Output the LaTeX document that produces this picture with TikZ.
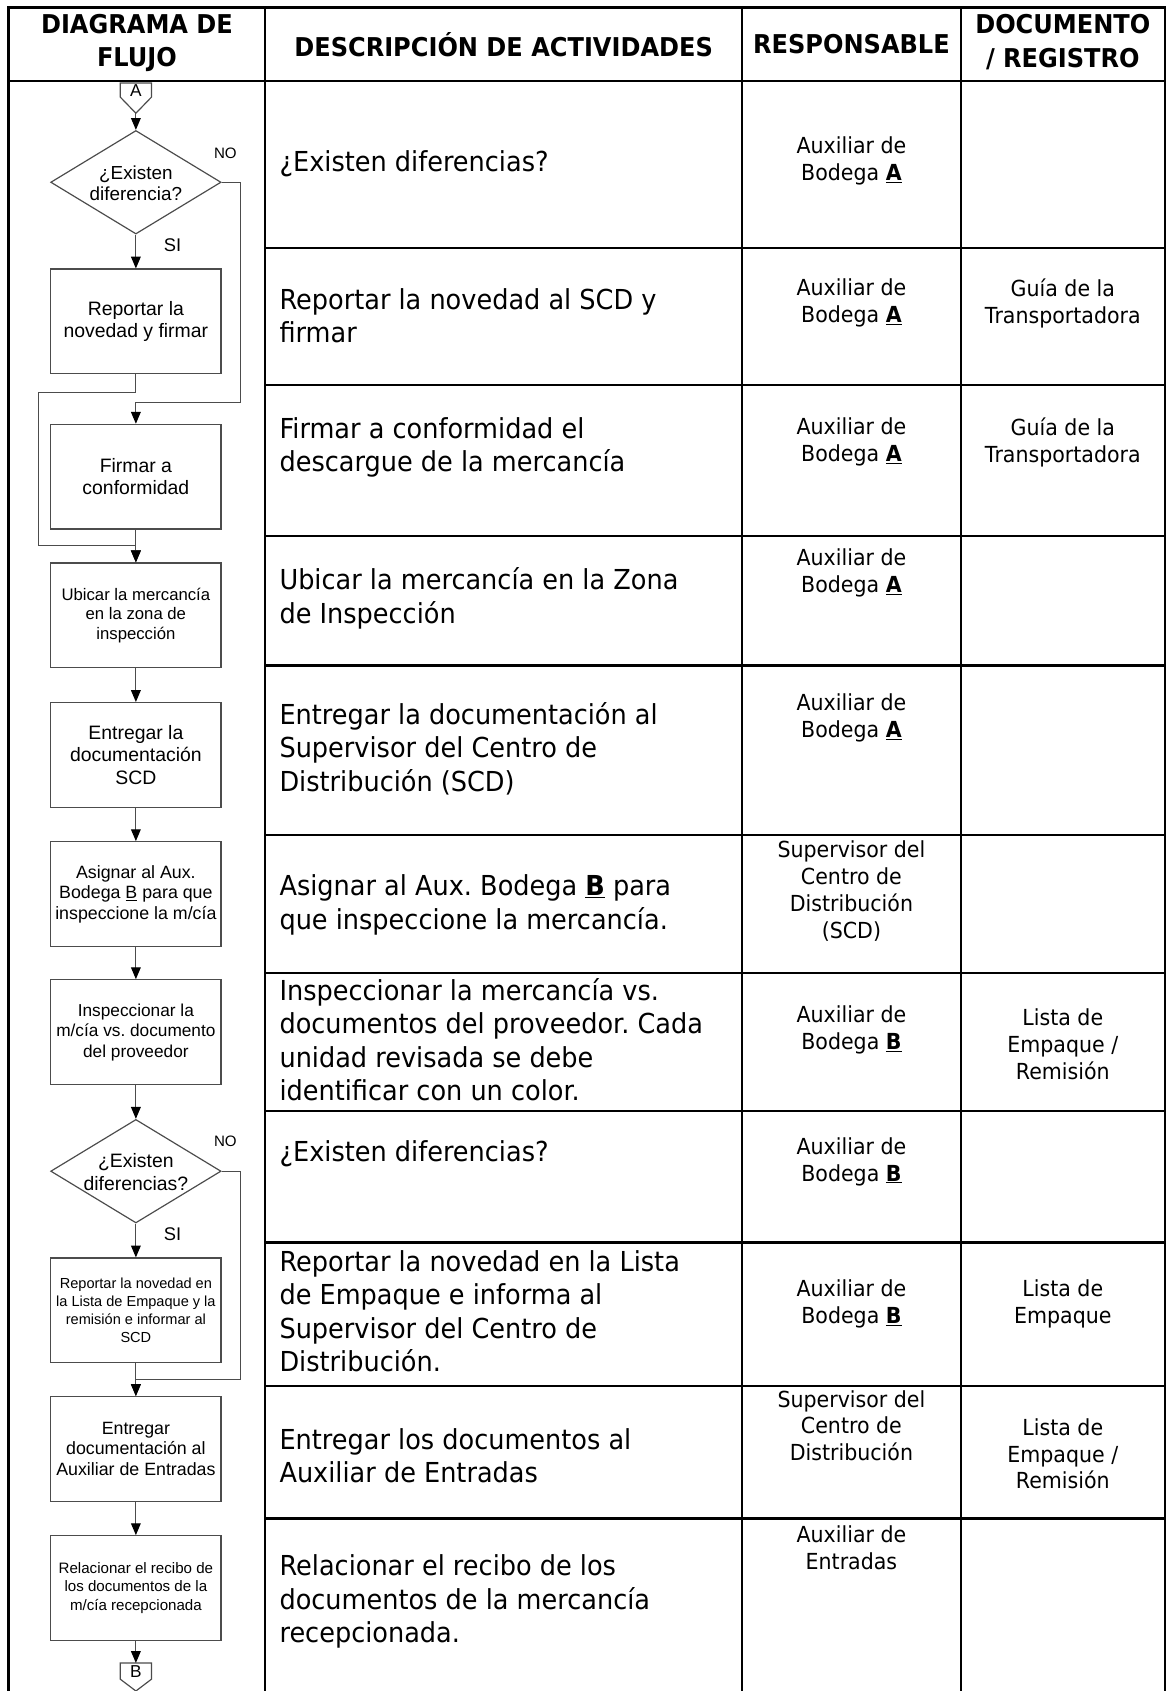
\documentclass[tikz,border=0pt]{standalone}
\usepackage{fontspec}
\setmainfont{DejaVu Sans}[FakeStretch=0.93]
\newfontfamily\arialf{Liberation Sans}
\usetikzlibrary{shapes.geometric,arrows.meta}
\frenchspacing
\begin{document}
\begin{tikzpicture}[x=1pt,y=-1pt,
  tline/.style={line width=2.2pt,black,line cap=rect},
  fbox/.style={draw=black!70,line width=1.1pt,minimum width=158pt,minimum height=97pt,inner sep=2pt,align=center},
  dia/.style={draw=black!70,line width=1.1pt,diamond,minimum width=158pt,minimum height=96pt,inner sep=0pt},
  flow/.style={draw=black!70,line width=1.1pt,-{Triangle[length=11pt,width=9pt,black]}},
  fline/.style={draw=black!70,line width=1.1pt},
  desc/.style={anchor=west,align=left,inner sep=0pt,font=\fontsize{25.5}{31}\selectfont},
  resp/.style={align=center,inner sep=0pt,font=\fontsize{20.5}{25}\selectfont},
  head/.style={align=center,inner sep=0pt,font=\fontsize{24}{31}\selectfont\bfseries},
  lbl/.style={inner sep=0pt,font=\arialf\fontsize{14}{16}\selectfont},
]
\useasboundingbox (0,0) rectangle (1082,1568);
\fill[white] (0,0) rectangle (1082,1568);

% ---------------- table ----------------
\draw[tline] (8,7) -- (1080,7);
\draw[tline] (8,75) -- (1080,75);
\foreach \x in {8,246,688,891,1080} \draw[tline] (\x,7) -- (\x,1568);
\foreach \y in {230,357,497,617,774,902,1030,1152,1285,1408} \draw[tline] (246,\y) -- (1080,\y);

% headers
\node[head] (h1) at (127,40) {DIAGRAMA DE\\FLUJO};
\node[head] (h2) at (467,41) {DESCRIPCIÓN DE ACTIVIDADES};
\node[head] (h3) at (789.5,41) {RESPONSABLE};
\node[head] (h4) at (985.5,39) {DOCUMENTO\\/ REGISTRO};

% descriptions
\node[desc] (t1) at (259,152) {¿Existen diferencias?};
\node[desc] (t2) at (259,293) {Reportar la novedad al SCD y\\firmar};
\node[desc] (t3) at (259,415) {Firmar a conformidad el\\descargue de la mercancía};
\node[desc] (t4) at (259,555) {Ubicar la mercancía en la Zona\\de Inspección};
\node[desc] (t5) at (259,694) {Entregar la documentación al\\Supervisor del Centro de\\Distribución (SCD)};
\node[desc] (t6) at (259,839) {Asignar al Aux. Bodega \textbf{\underline{B}} para\\que inspeccione la mercancía.};
\node[desc] (t7) at (259,964) {Inspeccionar la mercancía vs.\\documentos del proveedor. Cada\\unidad revisada se debe\\identificar con un color.};
\node[desc] (t8) at (259,1070) {¿Existen diferencias?};
\node[desc] (t9) at (259,1216) {Reportar la novedad en la Lista\\de Empaque e informa al\\Supervisor del Centro de\\Distribución.};
\node[desc] (t10) at (259,1350) {Entregar los documentos al\\Auxiliar de Entradas};
\node[desc] (t11) at (259,1485) {Relacionar el recibo de los\\documentos de la mercancía\\recepcionada.};

% responsables
\node[resp] (r1) at (789.5,149) {Auxiliar de\\Bodega \textbf{\underline{A}}};
\node[resp] (r2) at (789.5,281) {Auxiliar de\\Bodega \textbf{\underline{A}}};
\node[resp] (r3) at (789.5,410) {Auxiliar de\\Bodega \textbf{\underline{A}}};
\node[resp] (r4) at (789.5,531) {Auxiliar de\\Bodega \textbf{\underline{A}}};
\node[resp] (r5) at (789.5,666) {Auxiliar de\\Bodega \textbf{\underline{A}}};
\node[resp] (r6) at (789.5,826) {Supervisor del\\Centro de\\Distribución\\(SCD)};
\node[resp] (r7) at (789.5,955) {Auxiliar de\\Bodega \textbf{\underline{B}}};
\node[resp] (r8) at (789.5,1077) {Auxiliar de\\Bodega \textbf{\underline{B}}};
\node[resp] (r9) at (789.5,1209) {Auxiliar de\\Bodega \textbf{\underline{B}}};
\node[resp] (r10) at (789.5,1322) {Supervisor del\\Centro de\\Distribución};
\node[resp] (r11) at (789.5,1435) {Auxiliar de\\Entradas};

% documentos
\node[resp] (g2) at (985.5,281) {Guía de la\\Transportadora};
\node[resp] (g3) at (985.5,410) {Guía de la\\Transportadora};
\node[resp] (g7) at (985.5,968) {Lista de\\Empaque /\\Remisión};
\node[resp] (g9) at (985.5,1209) {Lista de\\Empaque};
\node[resp] (g10) at (985.5,1348) {Lista de\\Empaque /\\Remisión};

% ---------------- flowchart ----------------
\draw[fline] (111.5,77) -- (140.5,77) -- (140.5,90) -- (126,105) -- (111.5,90) -- cycle;
\node[inner sep=0pt,font=\arialf\fontsize{16}{18}\selectfont] (A) at (126,84) {A};
\coordinate (Atip) at (126,105);

\node[dia] (d1) at (126,169) {};
\node[align=center,inner sep=0pt,font=\arialf\fontsize{17.5}{20}\selectfont] (d1t) at (126,170) {¿Existen\\diferencia?};
\node[fbox,font=\arialf\fontsize{18}{21}\selectfont] (b2) at (126,298) {Reportar la\\novedad y firmar};
\node[fbox,font=\arialf\fontsize{18}{21}\selectfont] (b3) at (126,442) {Firmar a\\conformidad};
\node[fbox,font=\arialf\fontsize{15.5}{18}\selectfont] (b4) at (126,570.5) {Ubicar la mercancía\\en la zona de\\inspección};
\node[fbox,font=\arialf\fontsize{18}{21}\selectfont] (b5) at (126,700) {Entregar la\\documentación\\SCD};
\node[fbox,font=\arialf\fontsize{16.5}{19}\selectfont] (b6) at (126,829) {Asignar al Aux.\\Bodega \underline{B} para que\\inspeccione la m/cía};
\node[fbox,font=\arialf\fontsize{16}{19}\selectfont] (b7) at (126,957) {Inspeccionar la\\m/cía vs. documento\\del proveedor};
\node[dia] (d2) at (126,1086) {};
\node[align=center,inner sep=0pt,font=\arialf\fontsize{18}{21}\selectfont] (d2t) at (126,1087) {¿Existen\\diferencias?};
\node[fbox,font=\arialf\fontsize{13.5}{16.5}\selectfont] (b9) at (126,1215) {Reportar la novedad en\\la Lista de Empaque y la\\remisión e informar al\\SCD};
\node[fbox,font=\arialf\fontsize{16.5}{19}\selectfont] (b10) at (126,1343.5) {Entregar\\documentación al\\Auxiliar de Entradas};
\node[fbox,font=\arialf\fontsize{14}{17}\selectfont] (b11) at (126,1472.5) {Relacionar el recibo de\\los documentos de la\\m/cía recepcionada};

\draw[fline] (111.5,1542) -- (140.5,1542) -- (140.5,1557) -- (126,1568) -- (111.5,1557) -- cycle;
\node[inner sep=0pt,font=\arialf\fontsize{16}{18}\selectfont] (B) at (126,1550) {B};
\coordinate (Btop) at (126,1542);

% labels
\node[lbl] (no1) at (209,142) {NO};
\node[lbl,font=\arialf\fontsize{17}{19}\selectfont] (si1) at (160,227) {SI};
\node[lbl] (no2) at (209,1058) {NO};
\node[lbl,font=\arialf\fontsize{17}{19}\selectfont] (si2) at (160,1144) {SI};

% connectors
\coordinate (n1) at (223,373);
\coordinate (l1) at (36,364);
\coordinate (l2) at (36,506);
\coordinate (n2) at (223,1279);
\draw[flow] (Atip) -- (d1.north);
\draw[flow] (d1.south) -- (b2.north);
\draw[flow] (d1.east) -| (n1) -- (n1 -| b3.north) -- (b3.north);
\draw[flow] (b2.south) |- (l1) -- (l2) -- (l2 -| b4.north) -- (b4.north);
\draw[flow] (b3.south) -- (b4.north);
\draw[flow] (b4.south) -- (b5.north);
\draw[flow] (b5.south) -- (b6.north);
\draw[flow] (b6.south) -- (b7.north);
\draw[flow] (b7.south) -- (d2.north);
\draw[flow] (d2.south) -- (b9.north);
\draw[flow] (d2.east) -| (n2) -- (n2 -| b10.north) -- (b10.north);
\draw[flow] (b9.south) -- (b10.north);
\draw[flow] (b10.south) -- (b11.north);
\draw[flow] (b11.south) -- (Btop);
\end{tikzpicture}
\end{document}
